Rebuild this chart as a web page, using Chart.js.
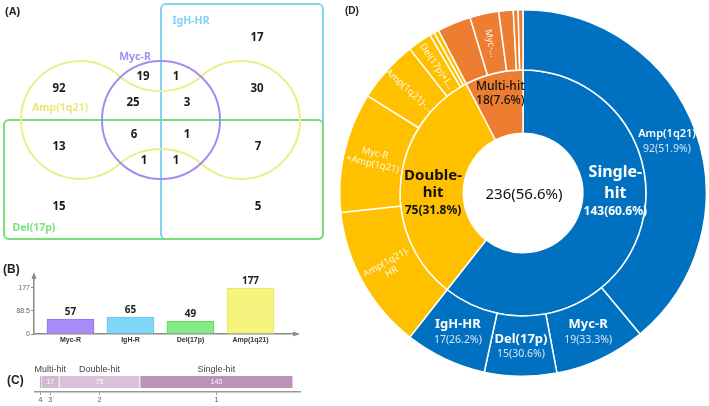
<!DOCTYPE html>
<html><head><meta charset="utf-8">
<script src="https://cdn.jsdelivr.net/npm/chart.js@4.4.0/dist/chart.umd.min.js"></script>
<style>
html,body{margin:0;padding:0;background:#fff;}
body{width:709px;height:406px;position:relative;overflow:hidden;font-family:'Liberation Sans',Arial,sans-serif;}
canvas{position:absolute;}
.tag{position:absolute;font-weight:bold;color:#222;z-index:5;line-height:1;white-space:nowrap;}
</style></head><body>
<canvas id="cA" width="330" height="250" style="left:0;top:0"></canvas>
<canvas id="cC" width="310" height="61" style="left:0;top:345px"></canvas>
<canvas id="cB" width="310" height="100" style="left:0;top:255px"></canvas>
<canvas id="cD" width="368" height="368" style="left:339px;top:9px"></canvas>
<div class="tag" style="left:5px;top:6px;font-size:11px">(A)</div>
<div class="tag" style="left:3px;top:263px;font-size:12px">(B)</div>
<div class="tag" style="left:7px;top:374px;font-size:12px">(C)</div>
<div class="tag" style="left:345px;top:6px;font-size:10px">(D)</div>
<script>
// ---------------- DATA ----------------
// (A) Venn region counts
const vennRegions = ['Amp(1q21)','Myc-R','Myc-R+IgH-HR','Myc-R+Amp(1q21)','Myc-R+Amp(1q21)+IgH-HR','IgH-HR','IgH-HR+Amp(1q21)','Amp(1q21)+Del(17p)','Myc-R+Amp(1q21)+Del(17p)','Myc-R+Amp(1q21)+Del(17p)+IgH-HR','IgH-HR+Amp(1q21)+Del(17p)','Myc-R+Del(17p)','Myc-R+Del(17p)+IgH-HR','Del(17p)','Del(17p)+IgH-HR'];
const vennCounts = [92,19,1,25,3,17,30,13,6,1,7,1,1,15,5];
const vennSets = ['IgH-HR','Myc-R','Amp(1q21)','Del(17p)'];
// (B) totals per abnormality
const geneCategories = ['Myc-R','IgH-R','Del(17p)','Amp(1q21)'];
const geneCounts = [57,65,49,177];
const geneTicks = [0,88.5,177];
// (C) number of hits
const hitLevels = ['4','3','2','1'];
const hitCounts = [1,17,75,143];
const hitGroups = ['','Multi-hit','Double-hit','Single-hit'];
// (D) sunburst
const innerNames = ['Single-hit','Double-hit','Multi-hit'];
const innerValues = [143,75,18];
const innerPct = ['143(60.6%)','75(31.8%)','18(7.6%)'];
const centerText = '236(56.6%)';
const outerNames = ['Amp(1q21)','Myc-R','Del(17p)','IgH-HR','Amp(1q21)+IgH-HR','Myc-R+Amp(1q21)','Amp(1q21)+Del(17p)','Del(17p)+IgH-HR','Myc-R+IgH-HR','Myc-R+Del(17p)','IgH-HR+Amp(1q21)+Del(17p)','Myc-R+Amp(1q21)+Del(17p)','Myc-R+Amp(1q21)+IgH-HR','Myc-R+Del(17p)+IgH-HR','All four'];
const outerValues = [92,19,15,17,30,25,13,5,1,1,7,6,3,1,1];
const outerGroup = [0,0,0,0,1,1,1,1,1,1,2,2,2,2,2];
const outerText = [['Amp(1q21)','92(51.9%)'],['Myc-R','19(33.3%)'],['Del(17p)','15(30.6%)'],['IgH-HR','17(26.2%)'],['Amp(1q21)-','HR'],['Myc-R','+Amp(1q21)'],['Amp(1q21)-…'],['Del(17p)+I…'],[],[],[],['Myc-…'],[],[],[]];

// ---------------- STYLE / LAYOUT ----------------
const NOTO = "'Noto Sans', 'Open Sans', sans-serif";
const vennLabelPos = [[59,89],[143,77],[176,77],[133,103],[187,103],[257,38],[257,89],[59,147],[134,135],[187,135],[258,147],[144,161],[176,161],[59,207],[258,207]];
const vennSetPos = [[191,21],[135,57],[60,108],[34,228]];
const vennSetColors = ['#7fd3f2','#a48cf2','#e8e878','#7fe07f'];
const vennGeom = {
  rects:[{x0:161,y0:4,x1:323,y1:239,color:'#80d4f2'},{x0:4,y0:120,x1:323,y1:239,color:'#78de7a'}],
  myc:{cx:161,cy:120,r:59,color:'#a48cf2'},
  ampL:{cx:80,cy:120,r:59}, ampR:{cx:241,cy:120,r:59}, waist:29, ampColor:'#eeee88'
};
const groupColors = ['#0070c0','#ffc000','#ed7d31'];

function scaler(chart){
  const x = chart.scales.x, y = chart.scales.y;
  return {x:v=>x.getPixelForValue(v), y:v=>y.getPixelForValue(v), r:v=>Math.abs(x.getPixelForValue(v)-x.getPixelForValue(0))};
}

// ---------------- (A) VENN ----------------
const vennPlugin = {
  id:'venn',
  beforeDatasetsDraw(chart){
    const ctx = chart.ctx, s = scaler(chart), g = vennGeom;
    ctx.save();
    ctx.lineWidth = 2;
    g.rects.forEach(R=>{
      ctx.strokeStyle = R.color;
      ctx.beginPath();
      ctx.roundRect(s.x(R.x0), s.y(R.y0), s.x(R.x1)-s.x(R.x0), s.y(R.y1)-s.y(R.y0), 5);
      ctx.stroke();
    });
    // Amp(1q21) dumbbell outline
    const L = g.ampL, Rc = g.ampR, r = L.r;
    const mx = (L.cx+Rc.cx)/2, dx = mx - L.cx, k = r - g.waist;
    const h = (dx*dx - k*k)/(2*k), RB = h - g.waist;
    const topC = {x:mx, y:L.cy - h}, botC = {x:mx, y:L.cy + h};
    const ang = (a,b)=>Math.atan2(b.y-a.y, b.x-a.x);
    const Lc = {x:L.cx,y:L.cy}, Rcc = {x:Rc.cx,y:Rc.cy};
    ctx.strokeStyle = g.ampColor;
    ctx.beginPath();
    ctx.arc(s.x(L.cx), s.y(L.cy), s.r(r), ang(Lc,topC), ang(Lc,botC), true);
    ctx.arc(s.x(botC.x), s.y(botC.y), s.r(RB), ang(botC,Lc), ang(botC,Rcc), false);
    ctx.arc(s.x(Rc.cx), s.y(Rc.cy), s.r(r), ang(Rcc,botC), ang(Rcc,topC), true);
    ctx.arc(s.x(topC.x), s.y(topC.y), s.r(RB), ang(topC,Rcc), ang(topC,Lc), false);
    ctx.closePath();
    ctx.stroke();
    // Myc-R circle
    ctx.strokeStyle = g.myc.color;
    ctx.beginPath();
    ctx.arc(s.x(g.myc.cx), s.y(g.myc.cy), s.r(g.myc.r), 0, Math.PI*2);
    ctx.stroke();
    // set names
    ctx.font = 'bold 10.5px ' + NOTO;
    ctx.textAlign = 'center'; ctx.textBaseline = 'middle';
    vennSets.forEach((n,i)=>{ ctx.fillStyle = vennSetColors[i]; ctx.fillText(n, s.x(vennSetPos[i][0]), s.y(vennSetPos[i][1])); });
    ctx.restore();
  },
  afterDatasetsDraw(chart){
    const ctx = chart.ctx;
    const meta = chart.getDatasetMeta(0);
    ctx.save();
    ctx.font = 'bold 11.5px ' + NOTO;
    ctx.fillStyle = '#1a1a1a';
    ctx.textAlign = 'center'; ctx.textBaseline = 'middle';
    meta.data.forEach((pt,i)=>ctx.fillText(String(vennCounts[i]), pt.x, pt.y));
    ctx.restore();
  }
};
new Chart(document.getElementById('cA'), {
  type:'scatter',
  data:{datasets:[{label:'regions', data: vennLabelPos.map(p=>({x:p[0],y:p[1]})), pointRadius:0}]},
  options:{responsive:false, animation:false, layout:{padding:0},
    scales:{x:{type:'linear',min:0,max:330,display:false}, y:{type:'linear',min:0,max:250,reverse:true,display:false}},
    plugins:{legend:{display:false},tooltip:{enabled:false}}},
  plugins:[vennPlugin]
});

// ---------------- (B) BAR ----------------
const arrowPlugin = {
  id:'arrows',
  afterDraw(chart){
    const ctx = chart.ctx, a = chart.chartArea;
    ctx.save(); ctx.fillStyle = '#8a8a8a';
    ctx.beginPath(); ctx.moveTo(a.left, a.top-3); ctx.lineTo(a.left-2.5, a.top+4); ctx.lineTo(a.left+2.5, a.top+4); ctx.closePath(); ctx.fill();
    ctx.beginPath(); ctx.moveTo(a.right+3, a.bottom); ctx.lineTo(a.right-4, a.bottom-2.5); ctx.lineTo(a.right-4, a.bottom+2.5); ctx.closePath(); ctx.fill();
    ctx.restore();
  }
};
const barValuePlugin = {
  id:'barValues',
  afterDatasetsDraw(chart){
    const ctx = chart.ctx, meta = chart.getDatasetMeta(0);
    ctx.save(); ctx.font = 'bold 10px ' + NOTO; ctx.fillStyle = '#222';
    ctx.textAlign = 'center'; ctx.textBaseline = 'bottom';
    meta.data.forEach((b,i)=>ctx.fillText(String(geneCounts[i]), b.x, b.y-2));
    ctx.restore();
  }
};
new Chart(document.getElementById('cB'), {
  type:'bar',
  data:{datasets:[{data: geneCounts.map((v,i)=>({x:i,y:v})),
    backgroundColor:['#a98bf9','#7fd6f7','#83eb83','#f4f47e'],
    borderColor:['#9476ee','#62c6ee','#62d962','#e4e462'], borderWidth:1, barThickness:47}]},
  options:{responsive:false, animation:false, layout:{padding:{top:20,right:13,left:0,bottom:0}},
    scales:{
      x:{type:'linear', offset:false, min:-0.608, max:3.775,
        afterBuildTicks:s=>{s.ticks = geneCategories.map((c,i)=>({value:i}));},
        afterFit:s=>{s.height = 21;},
        ticks:{callback:(v,i)=>geneCategories[i], font:{size:7,weight:'bold',family:'Liberation Sans'}, color:'#333', padding:2, maxRotation:0, autoSkip:false},
        grid:{display:false, offset:false, drawTicks:false, tickLength:0}, border:{color:'#8a8a8a',width:1.5}},
      y:{min:0, max:227,
        afterBuildTicks:s=>{s.ticks = geneTicks.map(v=>({value:v}));},
        afterFit:s=>{s.width = 34;},
        ticks:{callback:v=>String(v), font:{size:7,family:'Liberation Sans'}, color:'#666', padding:1},
        grid:{drawOnChartArea:false, tickLength:3, color:'#8a8a8a'}, border:{color:'#8a8a8a',width:1.5}}
    },
    plugins:{legend:{display:false},tooltip:{enabled:false}}},
  plugins:[arrowPlugin, barValuePlugin]
});

// ---------------- (C) STACKED HIT BAR ----------------
const hitTickValues = [];
{ let c = 0; hitCounts.forEach(v=>{ hitTickValues.push(c + v/2); c += v; }); }
const hitPlugin = {
  id:'hitLabels',
  afterDatasetsDraw(chart){
    const ctx = chart.ctx;
    ctx.save(); ctx.textAlign = 'center'; ctx.textBaseline = 'middle';
    chart.data.datasets.forEach((ds,i)=>{
      const b = chart.getDatasetMeta(i).data[0];
      const cx = (b.x + b.base)/2;
      if (hitGroups[i]) {
        ctx.font = '7px Liberation Sans'; ctx.fillStyle = '#fff';
        ctx.fillText(String(hitCounts[i]), cx, b.y);
        ctx.font = '9px Liberation Sans'; ctx.fillStyle = '#444';
        ctx.fillText(hitGroups[i], cx, b.y - 12);
      }
    });
    ctx.restore();
  }
};
const hitColors = ['#a58fa5','#d2bbd2','#d9c1d9','#bb93b9'];
new Chart(document.getElementById('cC'), {
  type:'bar',
  data:{labels:['hits'], datasets: hitCounts.map((v,i)=>({label:hitLevels[i], data:[v], backgroundColor:hitColors[i], borderColor:'#f3eef3', borderWidth:{left:1,right:1,top:0,bottom:0}, borderSkipped:false, barThickness:12}))},
  options:{indexAxis:'y', responsive:false, animation:false, layout:{padding:{top:27,left:35,right:10,bottom:0}},
    scales:{
      x:{stacked:true, min:-4.66, max:242.5,
        afterBuildTicks:s=>{s.ticks = hitTickValues.map(v=>({value:v}));},
        afterFit:s=>{s.height = 14;},
        ticks:{callback:(v,i)=>hitLevels[i], font:{size:7,family:'Liberation Sans'}, color:'#555', padding:1, maxRotation:0, autoSkip:false},
        grid:{drawOnChartArea:false, tickLength:3, color:'#999'}, border:{color:'#999',width:1.5}},
      y:{stacked:true, display:false}
    },
    plugins:{legend:{display:false},tooltip:{enabled:false}}},
  plugins:[hitPlugin]
});

// ---------------- (D) SUNBURST ----------------
function drawLines(ctx, x, y, rot, lines){
  ctx.save(); ctx.translate(x,y); ctx.rotate(rot);
  ctx.textAlign = 'center'; ctx.textBaseline = 'middle';
  lines.forEach(l=>{ ctx.font = l.font; ctx.fillStyle = l.color; ctx.fillText(l.text, 0, l.dy); });
  ctx.restore();
}
const innerStyle = [
  {shift:[6,-31], lines:[{font:'bold 16px '+NOTO,color:'#fff',dy:-19},{font:'bold 16px '+NOTO,color:'#fff',dy:2},{font:'bold 12px '+NOTO,color:'#fff',dy:20}]},
  {shift:[1,8], lines:[{font:'bold 15px '+NOTO,color:'#111',dy:-17},{font:'bold 15px '+NOTO,color:'#111',dy:0},{font:'bold 12px '+NOTO,color:'#111',dy:18}]},
  {shift:[-1,-11], lines:[{font:'500 12px '+NOTO,color:'#111',dy:-7},{font:'500 12px '+NOTO,color:'#111',dy:7}]}
];
const sunPlugin = {
  id:'sun',
  afterDatasetsDraw(chart){
    const ctx = chart.ctx;
    const outer = chart.getDatasetMeta(0).data, inner = chart.getDatasetMeta(1).data;
    const geo = arc => {
      const p = arc.getProps(['x','y','startAngle','endAngle','innerRadius','outerRadius'], true);
      const a = (p.startAngle+p.endAngle)/2, r = (p.innerRadius+p.outerRadius)/2;
      return {x:p.x + Math.cos(a)*r, y:p.y + Math.sin(a)*r, a, cx:p.x, cy:p.y};
    };
    outer.forEach((arc,i)=>{
      const t = outerText[i]; if (!t.length) return;
      const g = geo(arc);
      if (outerGroup[i] === 0) {
        const big = i === 0 ? '600 11px ' : 'bold 13px ';
        drawLines(ctx, g.x, g.y, 0, [
          {text:t[0], font:big+NOTO, color:'#fff', dy:-7},
          {text:t[1], font:'10.5px '+NOTO, color:'#d9e5f6', dy:8}]);
      } else {
        const ls = t.length === 2 ? [-5.5,5.5] : [0];
        drawLines(ctx, g.x, g.y, g.a + Math.PI, t.map((s,k)=>({text:s, font:'9.5px '+NOTO, color:'rgba(255,255,255,0.92)', dy:ls[k]})));
      }
    });
    inner.forEach((arc,i)=>{
      const g = geo(arc), st = innerStyle[i];
      const words = innerNames[i].split('-');
      const texts = st.lines.length === 3 ? [words[0]+'-', words[1], innerPct[i]] : [innerNames[i], innerPct[i]];
      drawLines(ctx, g.x + st.shift[0], g.y + st.shift[1], 0, st.lines.map((l,k)=>({text:texts[k], font:l.font, color:l.color, dy:l.dy})));
      if (i === 0) drawLines(ctx, g.cx + 1, g.cy + 2, 0, [{text:centerText, font:'15px '+NOTO, color:'#111', dy:0}]);
    });
  }
};
new Chart(document.getElementById('cD'), {
  type:'doughnut',
  data:{labels: outerNames, datasets:[
    {label:'outer', data: outerValues, backgroundColor: outerGroup.map(g=>groupColors[g]), borderColor:'#fff', borderWidth:1.5, weight:60},
    {label:'inner', data: innerValues, backgroundColor: groupColors, borderColor:'#fff', borderWidth:1.5, weight:63}
  ]},
  options:{responsive:false, animation:false, cutout:'32.6%', layout:{padding:0},
    plugins:{legend:{display:false},tooltip:{enabled:false}}},
  plugins:[sunPlugin]
});
</script>
</body></html>
